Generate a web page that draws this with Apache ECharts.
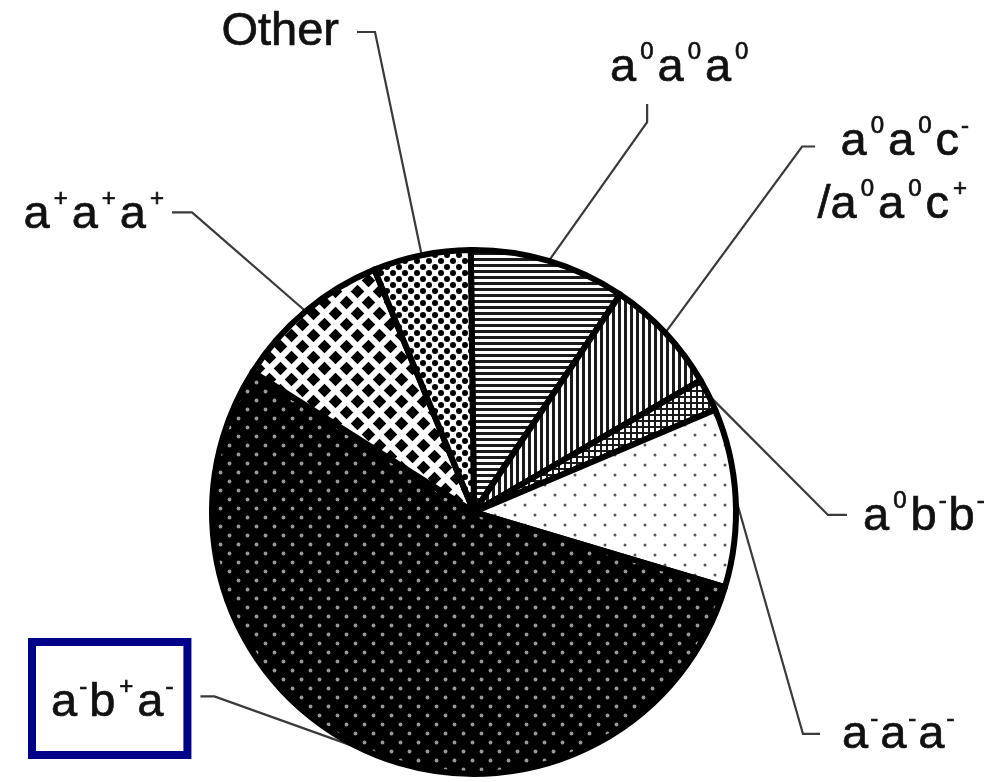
<!DOCTYPE html>
<html>
<head>
<meta charset="utf-8">
<script src="https://cdn.jsdelivr.net/npm/echarts@6/dist/echarts.min.js"></script>
<style>
  html, body { margin: 0; padding: 0; background: #fff; }
  #chart { width: 990px; height: 782px; }
</style>
</head>
<body>
<div id="chart"></div>
<script>
// Octahedral tilt systems and their share of the structures (percent).
// In a name, '^' marks the next character as a superscript.
const categories = ['a^0a^0a^0', 'a^0a^0c^-\n/a^0a^0c^+', 'a^0b^-b^-', 'a^-a^-a^-', 'a^-b^+a^-', 'a^+a^+a^+', 'Other'];
const shares = [9.6, 7.2, 2.0, 11.0, 54.3, 9.8, 6.0];

// Hatch fill for each slice, in the same order.
const fillKinds = ['hstripe', 'vstripe', 'grid', 'sparseDots', 'darkDots', 'diamonds', 'fineChecks'];

// Where each label sits and how its leader line leaves it.
const labelSpots = [
  { x: 610, y: 68,  align: 'left',  valign: 'middle', side: 'bottom', frac: 0.26, gap: 10, tick: 18 },
  { x: 971, y: 111, align: 'right', valign: 'top',    side: 'left',   frac: 0.30, gap: 2,  tick: 13 },
  { x: 863, y: 517, align: 'left',  valign: 'middle', side: 'left',   frac: 0.46, gap: 16, tick: 19 },
  { x: 842, y: 735, align: 'left',  valign: 'middle', side: 'left',   frac: 0.48, gap: 22, tick: 17 },
  { x: 32,  y: 642, align: 'left',  valign: 'top',    side: 'right',  frac: 0.45, gap: 5,  tick: 14 },
  { x: 168, y: 215, align: 'right', valign: 'middle', side: 'right',  frac: 0.45, gap: 4,  tick: 20 },
  { x: 339, y: 32,  align: 'right', valign: 'middle', side: 'right',  frac: 0.50, gap: 18, tick: 18 }
];

const FONT = '"Liberation Sans", Arial, Helvetica, sans-serif';

// ---- hatch tiles -------------------------------------------------------
function tile(size, bg, draw) {
  const c = document.createElement('canvas');
  c.width = c.height = size;
  const g = c.getContext('2d');
  g.fillStyle = bg;
  g.fillRect(0, 0, size, size);
  draw(g, size);
  return c;
}
function staggered(g, s, shape) {
  const pts = [[s / 4, s / 4], [3 * s / 4, 3 * s / 4]];
  for (const [px, py] of pts)
    for (let dx = -s; dx <= s; dx += s)
      for (let dy = -s; dy <= s; dy += s) shape(px + dx, py + dy);
}
function dots(r, color) {
  return (g, s) => {
    g.fillStyle = color;
    staggered(g, s, (x, y) => { g.beginPath(); g.arc(x, y, r, 0, Math.PI * 2); g.fill(); });
  };
}
function diamonds(h, color) {
  return (g, s) => {
    g.fillStyle = color;
    staggered(g, s, (x, y) => {
      g.beginPath();
      g.moveTo(x, y - h); g.lineTo(x + h, y); g.lineTo(x, y + h); g.lineTo(x - h, y);
      g.closePath(); g.fill();
    });
  };
}
const tiles = {
  hstripe: tile(6, '#fff', g => { g.fillStyle = '#1a1a1a'; g.fillRect(0, 0, 6, 3); }),
  vstripe: tile(6, '#fff', g => { g.fillStyle = '#1a1a1a'; g.fillRect(0, 0, 3, 6); }),
  grid: tile(6, '#fff', g => { g.fillStyle = '#1a1a1a'; g.fillRect(0, 0, 6, 2); g.fillRect(0, 0, 2, 6); }),
  sparseDots: tile(20, '#fff', dots(1.5, '#555')),
  darkDots: tile(18, '#000', dots(1.9, '#9a9a9a')),
  diamonds: tile(22, '#fff', diamonds(6.8, '#000')),
  fineChecks: tile(12, '#fff', dots(3.0, '#000'))
};

// ---- rich-text names with superscripts ---------------------------------
function toRich(name) {
  const two = name.indexOf('\n') >= 0;
  const M = two ? 'M' : 'm', S = two ? 'S' : 's', N = two ? 'N' : 'n';
  return name.split('\n').map(line => {
    let out = '', buf = '';
    for (let i = 0; i < line.length; i++) {
      if (line[i] === '^') {
        if (buf) { out += '{' + M + '|' + buf + '}'; buf = ''; }
        const c = line[++i];
        out += '{' + (c === '-' ? N : S) + '|' + c + '}';
      } else {
        buf += line[i];
      }
    }
    if (buf) out += '{' + M + '|' + buf + '}';
    return out;
  }).join('\n');
}
const ink = { color: '#111', textBorderColor: '#111', textBorderWidth: 0.7 };
const main = lh => Object.assign({ fontFamily: FONT, fontSize: 47, lineHeight: lh }, ink);
const sup = (top, side) => Object.assign({ fontFamily: FONT, fontSize: 24, lineHeight: 20, verticalAlign: 'top', padding: [top, side, 0, side] }, ink);
const rich = {
  m: main(56), s: sup(0, 4), n: sup(0, 2),
  M: main(63), S: sup(3, 4), N: sup(3, 2)
};

const data = categories.map((name, i) => {
  const item = {
    name: name,
    value: shares[i],
    itemStyle: { color: { image: tiles[fillKinds[i]], repeat: 'repeat' } }
  };
  if (name === 'a^-b^+a^-') {
    item.label = { borderColor: '#000088', borderWidth: 8, padding: [33, 12, 24, 19] };
  }
  return item;
});

const chart = echarts.init(document.getElementById('chart'), null, { renderer: 'canvas' });
chart.setOption({
  animation: false,
  backgroundColor: '#fff',
  series: [{
    type: 'pie',
    center: [474, 512],
    radius: 262,
    startAngle: 90.7,
    clockwise: true,
    avoidLabelOverlap: false,
    emphasis: { disabled: true },
    silent: true,
    itemStyle: { borderColor: '#000', borderWidth: 6, borderJoin: 'round' },
    label: {
      show: true,
      position: 'outside',
      overflow: 'none',
      formatter: p => toRich(p.name),
      rich: rich
    },
    labelLine: {
      show: true,
      lineStyle: { color: '#3a3a3a', width: 2.2 }
    },
    labelLayout: function (params) {
      const s = labelSpots[params.dataIndex];
      const w = params.labelRect.width, h = params.labelRect.height;
      const left = s.align === 'right' ? s.x - w : (s.align === 'center' ? s.x - w / 2 : s.x);
      const top = s.valign === 'top' ? s.y : s.y - h / 2;
      let end, dir;
      if (s.side === 'right') { end = [left + w + s.gap, top + h * s.frac]; dir = [1, 0]; }
      else if (s.side === 'left') { end = [left - s.gap, top + h * s.frac]; dir = [-1, 0]; }
      else { end = [left + w * s.frac, top + h + s.gap]; dir = [0, 1]; }
      const elbow = [end[0] + dir[0] * s.tick, end[1] + dir[1] * s.tick];
      const anchor = params.labelLinePoints ? params.labelLinePoints[0] : elbow;
      return {
        x: s.x, y: s.y,
        align: s.align, verticalAlign: s.valign,
        labelLinePoints: [anchor, elbow, end]
      };
    },
    data: data
  }]
});
</script>
</body>
</html>
